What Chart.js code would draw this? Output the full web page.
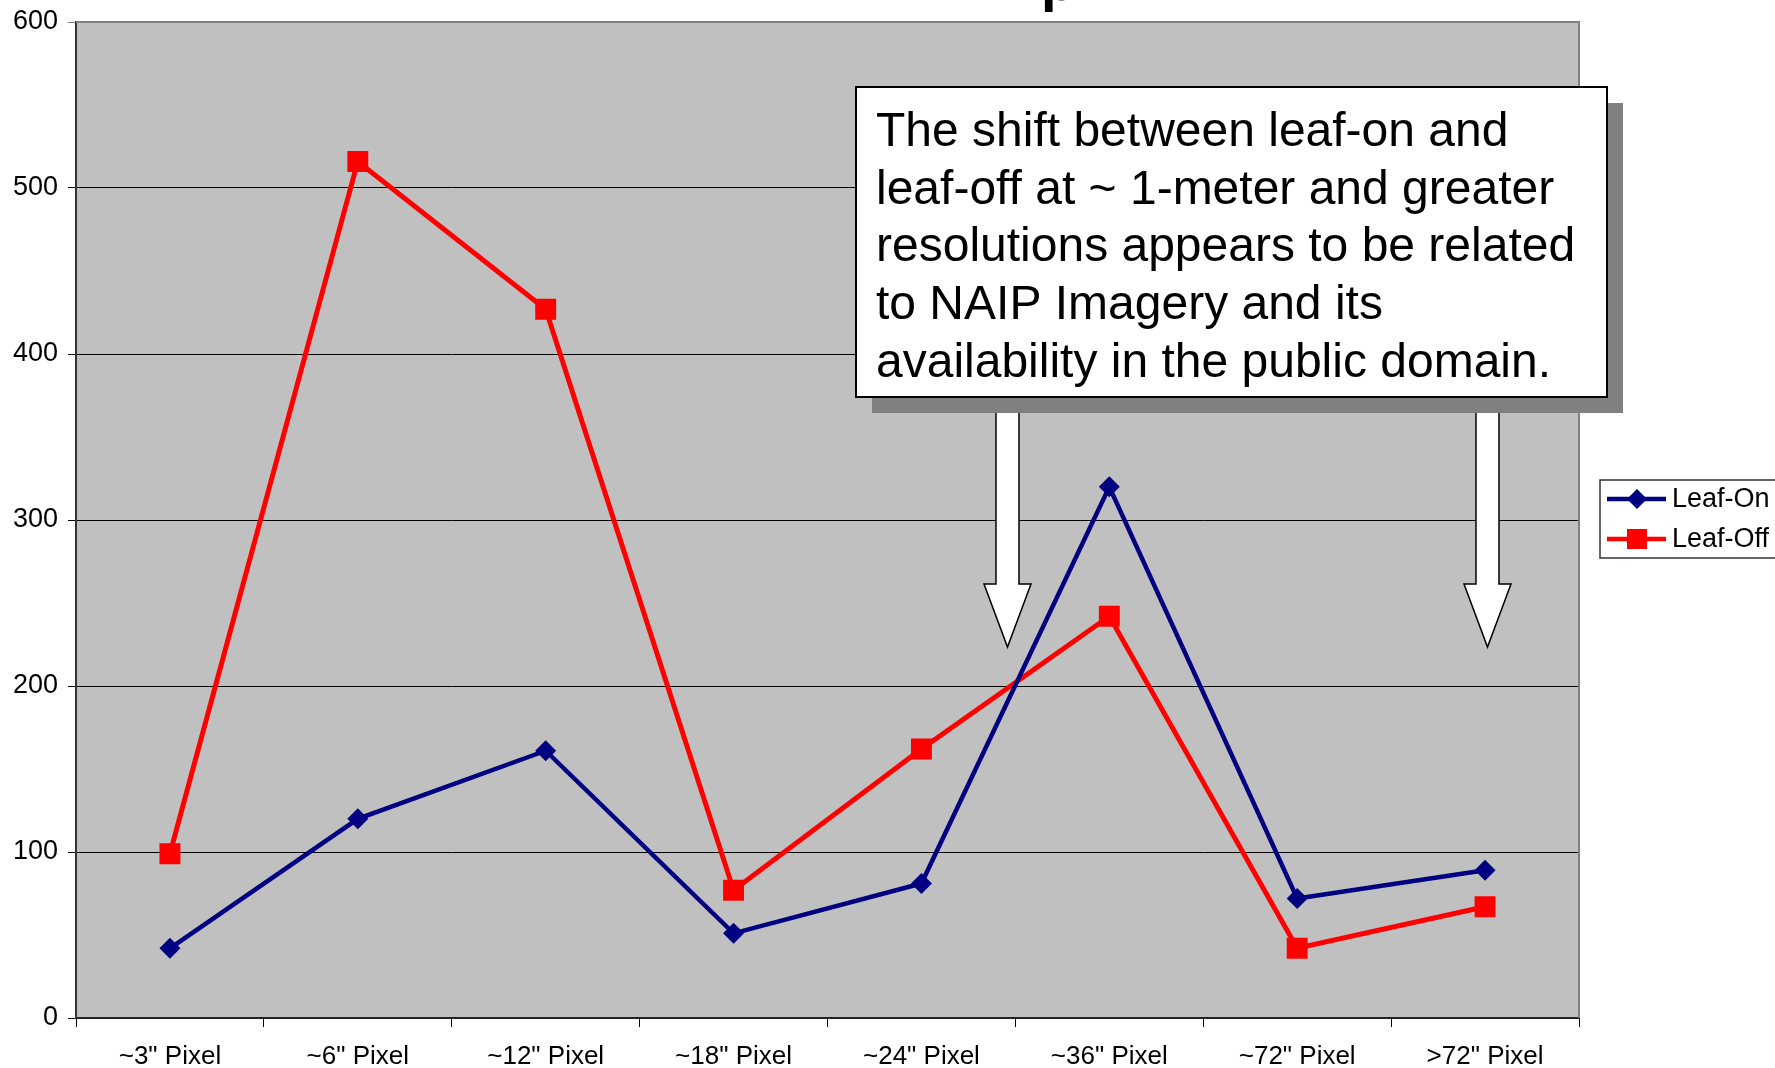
<!DOCTYPE html>
<html><head><meta charset="utf-8">
<script src="https://cdn.jsdelivr.net/npm/chart.js@4/dist/chart.umd.min.js"></script>
<style>html,body{margin:0;padding:0;background:#fff;overflow:hidden}#wrap{width:1775px;height:1068px}</style>
</head><body><div id="wrap"><canvas id="c" width="1775" height="1068"></canvas></div>
<script>
const categories = ['~3" Pixel','~6" Pixel','~12" Pixel','~18" Pixel','~24" Pixel','~36" Pixel','~72" Pixel','>72" Pixel'];
const leafOn  = [42,120,161,51,81,320,72,89];
const leafOff = [99,516,427,77,162,242,42,67];
const yTicks = [0,100,200,300,400,500,600];
const seriesNames = ['Leaf-On','Leaf-Off'];
const noteLines = [
  'The shift between leaf-on and',
  'leaf-off at ~ 1-meter and greater',
  'resolutions appears to be related',
  'to NAIP Imagery and its',
  'availability in the public domain.'
];
const titleFragment = 'p';

const FONT = 'Arial, "Liberation Sans", sans-serif';
const NAVY = '#000080', RED = '#FF0000';

const decor = {
  id: 'decor',
  beforeDraw(chart) {
    const {ctx, chartArea: a} = chart;
    ctx.save();
    ctx.fillStyle = '#C0C0C0';
    ctx.fillRect(a.left, a.top, a.right - a.left, a.bottom - a.top);
    ctx.restore();
  },
  beforeDatasetsDraw(chart) {
    const {ctx, chartArea: a} = chart;
    ctx.save();
    ctx.strokeStyle = '#808080';
    ctx.lineWidth = 2;
    ctx.beginPath();
    ctx.moveTo(a.left, a.top); ctx.lineTo(a.right, a.top); ctx.lineTo(a.right, a.bottom);
    ctx.stroke();
    ctx.restore();
  },
  afterDraw(chart) {
    const {ctx} = chart;
    ctx.save();
    // partial title (cut off at top)
    ctx.fillStyle = '#000';
    ctx.font = 'bold 56px ' + FONT;
    ctx.textBaseline = 'alphabetic';
    ctx.fillText(titleFragment, 1041, 0);

    // arrows
    function arrow(cx, top, headTop, tip, shaftHalf, headHalf) {
      ctx.beginPath();
      ctx.moveTo(cx - shaftHalf, top);
      ctx.lineTo(cx - shaftHalf, headTop);
      ctx.lineTo(cx - headHalf, headTop);
      ctx.lineTo(cx, tip);
      ctx.lineTo(cx + headHalf, headTop);
      ctx.lineTo(cx + shaftHalf, headTop);
      ctx.lineTo(cx + shaftHalf, top);
      ctx.closePath();
      ctx.fillStyle = '#fff';
      ctx.fill();
      ctx.strokeStyle = '#000';
      ctx.lineWidth = 1.5;
      ctx.stroke();
    }
    arrow(1007.5, 400, 584, 647, 11.5, 23.5);
    arrow(1487.5, 400, 584, 647, 11.5, 23.5);

    // annotation box with shadow
    const bx = 856, by = 87, bw = 751, bh = 310, sh = 16;
    ctx.fillStyle = '#808080';
    ctx.fillRect(bx + sh, by + sh, bw, bh);
    ctx.fillStyle = '#fff';
    ctx.fillRect(bx, by, bw, bh);
    ctx.strokeStyle = '#000';
    ctx.lineWidth = 2;
    ctx.strokeRect(bx, by, bw, bh);
    ctx.fillStyle = '#000';
    ctx.font = '48px ' + FONT;
    ctx.textAlign = 'left';
    ctx.textBaseline = 'alphabetic';
    noteLines.forEach((t, i) => ctx.fillText(t, 876, 146 + i * 57.7));

    // legend
    ctx.strokeStyle = '#333';
    ctx.lineWidth = 1.5;
    ctx.fillStyle = '#fff';
    ctx.fillRect(1600, 480, 200, 78);
    ctx.strokeRect(1600, 480, 200, 78);
    const items = [
      {name: seriesNames[0], color: NAVY, shape: 'diamond', y: 499},
      {name: seriesNames[1], color: RED, shape: 'square', y: 539}
    ];
    items.forEach(it => {
      ctx.strokeStyle = it.color;
      ctx.lineWidth = 4.5;
      ctx.beginPath(); ctx.moveTo(1607, it.y); ctx.lineTo(1666, it.y); ctx.stroke();
      ctx.fillStyle = it.color;
      const cx = 1637;
      if (it.shape === 'diamond') {
        ctx.beginPath();
        ctx.moveTo(cx, it.y - 10); ctx.lineTo(cx + 10, it.y); ctx.lineTo(cx, it.y + 10); ctx.lineTo(cx - 10, it.y);
        ctx.closePath(); ctx.fill();
      } else {
        ctx.fillRect(cx - 10, it.y - 10, 20, 20);
      }
      ctx.fillStyle = '#000';
      ctx.font = '27px ' + FONT;
      ctx.textBaseline = 'middle';
      ctx.fillText(it.name, 1672, it.y + 1);
    });
    ctx.restore();
  }
};

new Chart(document.getElementById('c'), {
  type: 'line',
  data: {
    labels: categories,
    datasets: [
      {label: seriesNames[0], data: leafOn, borderColor: NAVY, backgroundColor: NAVY,
       borderWidth: 4.5, pointStyle: 'rectRot', pointRadius: 10.5, pointBorderWidth: 0,
       tension: 0, fill: false},
      {label: seriesNames[1], data: leafOff, borderColor: RED, backgroundColor: RED,
       borderWidth: 5, pointStyle: 'rect', pointRadius: 14.8, pointBorderWidth: 0,
       tension: 0, fill: false}
    ]
  },
  options: {
    responsive: false,
    animation: false,
    devicePixelRatio: 1,
    layout: {padding: {top: 22, right: 196, left: 0, bottom: 0}},
    plugins: {legend: {display: false}, tooltip: {enabled: false}, title: {display: false}},
    scales: {
      x: {
        type: 'category',
        offset: true,
        grid: {offset: true, drawOnChartArea: false, drawTicks: true, tickLength: 9, color: '#000', lineWidth: 1},
        border: {display: true, color: '#222', width: 2},
        ticks: {color: '#000', font: {family: FONT, size: 26}, padding: 14, maxRotation: 0, autoSkip: false},
        afterFit: s => { s.height = 50; s.paddingLeft = 0; s.paddingRight = 0; }
      },
      y: {
        min: 0, max: 600,
        afterBuildTicks: s => { s.ticks = yTicks.map(v => ({value: v})); },
        grid: {color: ctx => (ctx.tick && ctx.tick.value === 600) ? '#808080' : '#000', lineWidth: 1, tickLength: 8},
        border: {display: true, color: '#333', width: 2},
        ticks: {color: '#000', font: {family: FONT, size: 27}, padding: 10},
        afterFit: s => { s.width = 76; s.paddingTop = 0; s.paddingBottom = 0; }
      }
    }
  },
  plugins: [decor]
});
</script>
</body></html>
